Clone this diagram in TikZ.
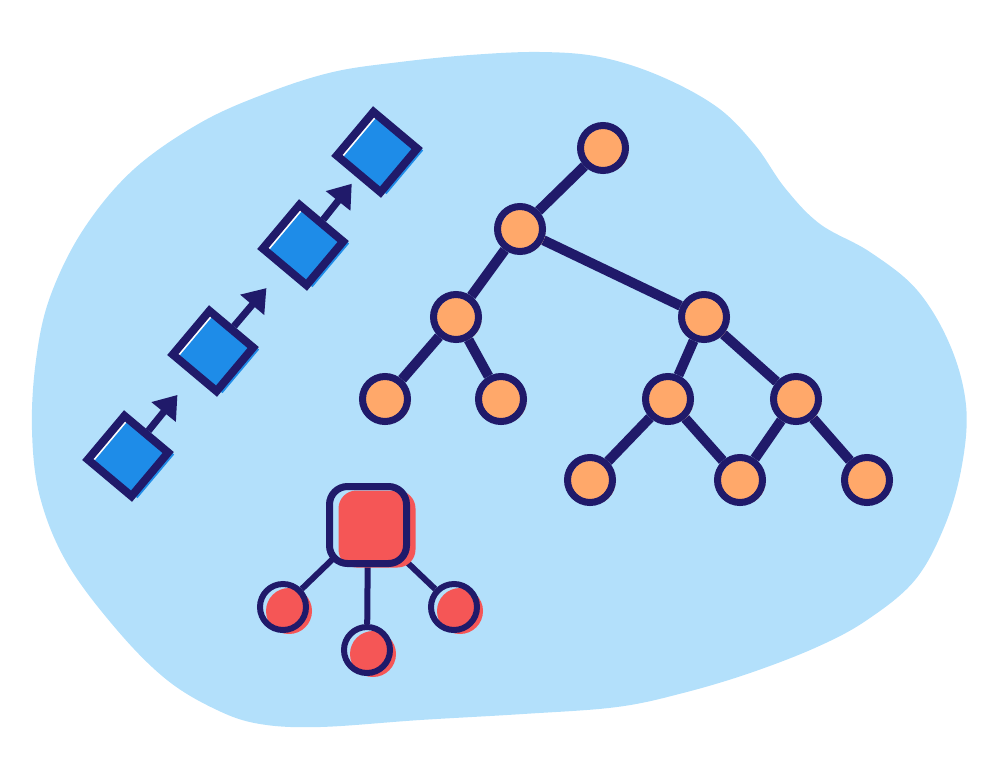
\documentclass[tikz,border=0pt]{standalone}
\usetikzlibrary{arrows.meta}
\definecolor{blobc}{HTML}{B3E0FB}
\definecolor{navy}{HTML}{201A6A}
\definecolor{sqblue}{HTML}{1E8CE8}
\definecolor{orng}{HTML}{FFA86A}
\definecolor{redc}{HTML}{F55656}
\pgfdeclarelayer{blobl}
\pgfdeclarelayer{edges}
\pgfsetlayers{blobl,edges,main}
\begin{document}
\begin{tikzpicture}[x=1pt,y=-1pt,
  sqnode/.style={rectangle, draw=navy, line width=8pt, minimum size=57pt, inner sep=0pt, rotate=50,
    preaction={fill=white},
    preaction={fill=sqblue, transform canvas={xshift=6pt,yshift=-2pt}}},
  circ/.style={circle, draw=navy, line width=7pt, minimum size=45pt, inner sep=0pt,
    preaction={fill=blobc},
    preaction={fill=orng, transform canvas={xshift=3pt,yshift=-2pt}}},
  rsqnode/.style={rectangle, rounded corners=18pt, draw=navy, line width=7pt, minimum size=77pt, inner sep=0pt,
    preaction={fill=blobc},
    preaction={fill=redc, transform canvas={xshift=9pt,yshift=-4pt}}},
  rcirc/.style={circle, draw=navy, line width=6pt, minimum size=46pt, inner sep=0pt,
    preaction={fill=blobc},
    preaction={fill=redc, transform canvas={xshift=6pt,yshift=-4pt}}},
  tedge/.style={draw=navy, line width=10pt},
  redge/.style={draw=navy, line width=6pt},
  arr/.style={draw=navy, line width=7pt, -{Triangle[length=22pt,width=30pt]}}
]
\useasboundingbox (0,0) rectangle (1000,780);

\begin{pgfonlayer}{blobl}
\fill[blobc] plot[smooth cycle, tension=0.6] coordinates {
 (333,72) (400,62) (470,55) (540,52) (600,57) (660,76) (717,107) (755,145) (785,188)
 (820,224) (870,252) (917,290) (950,345) (966,405) (962,465) (945,525) (915,580)
 (867,620) (817,647) (750,673) (683,693) (617,707) (523,714) (420,720) (320,727)
 (260,724) (217,710) (167,680) (117,630) (67,563) (40,497) (32,430) (36,360)
 (50,297) (83,230) (133,170) (200,123) (267,93)};
\end{pgfonlayer}

% blue squares
\node[sqnode] (s1) at (128,456) {};
\node[sqnode] (s2) at (213,351) {};
\node[sqnode] (s3) at (303,245) {};
\node[sqnode] (s4) at (377,152) {};

% tree
\node[circ] (t0) at (603,148) {};
\node[circ] (t1) at (520,229) {};
\node[circ] (t2) at (456,317) {};
\node[circ] (t3) at (385,399) {};
\node[circ] (t4) at (501,399) {};
\node[circ] (t5) at (704,317) {};
\node[circ] (t6) at (668,399) {};
\node[circ] (t7) at (796,399) {};
\node[circ] (t8) at (590,480) {};
\node[circ] (t9) at (740,480) {};
\node[circ] (t10) at (867,480) {};

% red group
\node[rsqnode] (r0) at (368,525) {};
\node[rcirc] (r1) at (283,607) {};
\node[rcirc] (r2) at (367,650) {};
\node[rcirc] (r3) at (454,607) {};

\begin{pgfonlayer}{edges}
\draw[arr, shorten >=24pt] (s1) -- (s2);
\draw[arr, shorten >=24pt] (s2) -- (s3);
\draw[arr, shorten >=8pt] (s3) -- (s4);

\draw[tedge] (t0) -- (t1);
\draw[tedge] (t1) -- (t2);
\draw[tedge] (t1) -- (t5);
\draw[tedge] (t2) -- (t3);
\draw[tedge] (t2) -- (t4);
\draw[tedge] (t5) -- (t6);
\draw[tedge] (t5) -- (t7);
\draw[tedge] (t6) -- (t8);
\draw[tedge] (t6) -- (t9);
\draw[tedge] (t7) -- (t9);
\draw[tedge] (t7) -- (t10);

\draw[redge] (r0.center) -- (r1);
\draw[redge] (r0.center) -- (r2);
\draw[redge] (r0.center) -- (r3);
\end{pgfonlayer}
\end{tikzpicture}
\end{document}
